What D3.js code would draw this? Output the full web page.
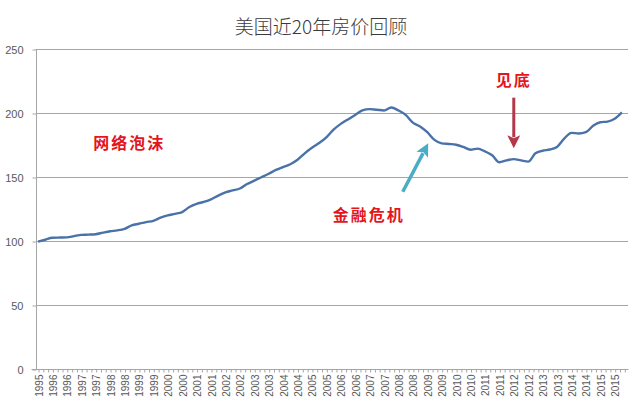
<!DOCTYPE html>
<html>
<head>
<meta charset="utf-8">
<script src="https://cdn.jsdelivr.net/npm/d3@7"></script>
<style>
  body { margin: 0; background: #fff; }
  svg { display: block; }
</style>
</head>
<body>
<div id="chart"></div>
<script>
// quarterly index values, first point = 100
const values = [
  99.5, 101, 102.5, 102.7, 102.8, 103.8, 104.8, 105, 105.3, 106.5,
  107.6, 108.3, 109.5, 112.2, 113.5, 114.8, 115.8, 118.2, 120, 121.2,
  122.6, 126.5, 129, 130.5, 132.5, 135.5, 138, 139.5, 141, 144.5,
  147.2, 149.8, 152.5, 155.5, 157.8, 160, 163.5, 168.5, 172.8, 176.5,
  181, 187, 191.5, 195, 198.5, 202, 203, 202.5, 202, 204.3,
  202, 198.5, 192.5, 189.5, 185, 179, 176.3, 175.8, 175.2, 173.5,
  171.3, 172.2, 170, 167, 161.5, 163, 164, 163, 162, 168.5,
  170.5, 171.5, 173.5, 180, 184.5, 184, 185, 190, 192.8, 193.3,
  195.5, 200.5
];
// one label every six months along the time axis
const tickLabels = [
  '1995', '1996', '1996', '1997', '1997', '1998', '1998', '1999', '1999', '2000',
  '2000', '2001', '2001', '2002', '2002', '2003', '2003', '2004', '2004', '2005',
  '2005', '2006', '2006', '2007', '2007', '2008', '2008', '2009', '2009', '2010',
  '2010', '2011', '2011', '2012', '2012', '2013', '2013', '2014', '2014', '2015',
  '2015'
];
const yTicks = [0, 50, 100, 150, 200, 250];
const title = '美国近20年房价回顾';
const notes = [
  { text: '网络泡沫', month: 38, value: 176 },
  { text: '金融危机', month: 137.7, value: 120 },
  { text: '见底', month: 198, value: 225.5 }
];
const arrows = [
  { from: [198, 212], to: [198, 172.5], color: '#b5374a', w: 3 },
  { from: [151.8, 138.5], to: [162.4, 176.3], color: '#4bacc6', w: 3.5 }
];

const width = 640;
const height = 407;
const plot = { left: 36, right: 628, top: 49, bottom: 369 };

const svg = d3.select('#chart').append('svg')
    .attr('width', width)
    .attr('height', height);

// months since the first point
const x = d3.scaleLinear()
    .domain([0, 240])
    .range([38, 614.7]);

const y = d3.scaleLinear()
    .domain([0, 250])
    .range([plot.bottom, plot.top]);

// title
svg.append('text')
    .attr('x', 321)
    .attr('y', 34)
    .attr('text-anchor', 'middle')
    .style('font-family', '"Noto Sans CJK SC", sans-serif')
    .style('font-weight', 300)
    .style('font-size', '19px')
    .style('fill', '#3a3a3a')
    .text(title);

// gridlines
svg.append('g')
  .selectAll('line')
    .data(yTicks.filter((d) => d > 0))
  .enter()
    .append('line')
    .attr('x1', plot.left)
    .attr('x2', plot.right)
    .attr('y1', (d) => Math.round(y(d)) + 0.5)
    .attr('y2', (d) => Math.round(y(d)) + 0.5)
    .style('stroke', '#a6a6a6')
    .style('stroke-width', 1);

// y axis
const yAxis = d3.axisLeft(y)
    .tickValues(yTicks)
    .tickSize(4)
    .tickPadding(9);

svg.append('g')
    .attr('class', 'y axis')
    .attr('transform', `translate(${plot.left + 0.5},0.5)`)
    .call(yAxis)
    .call((g) => g.select('.domain').style('stroke', '#a6a6a6').attr('d', `M0,${plot.top}V${plot.bottom}`))
    .call((g) => g.selectAll('.tick line').style('stroke', '#a6a6a6'))
    .call((g) => g.selectAll('.tick text')
      .style('font-family', '"Liberation Sans", Arial, sans-serif')
      .style('font-size', '11px')
      .style('fill', '#595959'));

// x axis: a tick every two months, a label every six
const tickMonths = d3.range(0, 246, 2);
const xAxis = d3.axisBottom(x)
    .tickValues(tickMonths)
    .tickSize(3)
    .tickFormat((m) => (m % 6 === 0 ? tickLabels[m / 6] || '' : ''));

const gx = svg.append('g')
    .attr('class', 'x axis')
    .attr('transform', `translate(0.5,${plot.bottom + 0.5})`)
    .call(xAxis);

gx.select('.domain')
    .attr('d', `M${plot.left - 5},0H${plot.right}`)
    .style('stroke', '#a6a6a6');
gx.selectAll('.tick line').style('stroke', '#a6a6a6');
gx.selectAll('.tick text')
    .attr('transform', 'rotate(-90)')
    .attr('text-anchor', 'end')
    .attr('x', -5)
    .attr('y', 0)
    .attr('dy', '0.35em')
    .style('font-family', '"Liberation Sans", Arial, sans-serif')
    .style('font-size', '10px')
    .style('fill', '#595959');

// the index line
const line = d3.line()
    .x((d, i) => x(i * 3))
    .y((d) => y(d))
    .curve(d3.curveMonotoneX);

svg.append('path')
    .datum(values)
    .attr('d', line)
    .style('fill', 'none')
    .style('stroke', '#4a72a8')
    .style('stroke-width', 2.4)
    .style('stroke-linejoin', 'round');

// annotations
svg.append('g')
  .selectAll('text')
    .data(notes)
  .enter()
    .append('text')
    .attr('x', (d) => x(d.month))
    .attr('y', (d) => y(d.value))
    .attr('dy', '0.36em')
    .attr('text-anchor', 'middle')
    .style('font-family', '"Noto Sans CJK SC", sans-serif')
    .style('font-weight', 700)
    .style('font-size', '16px')
    .style('letter-spacing', '2px')
    .style('fill', '#e3151d')
    .text((d) => d.text);

arrows.forEach((a) => {
  const x1 = x(a.from[0]);
  const y1 = y(a.from[1]);
  const x2 = x(a.to[0]);
  const y2 = y(a.to[1]);
  const ang = Math.atan2(y2 - y1, x2 - x1);
  const headLen = 13;
  const headW = 6.5;
  const bx = x2 - headLen * Math.cos(ang);
  const by = y2 - headLen * Math.sin(ang);
  svg.append('line')
      .attr('x1', x1)
      .attr('y1', y1)
      .attr('x2', bx + 2 * Math.cos(ang))
      .attr('y2', by + 2 * Math.sin(ang))
      .style('stroke', a.color)
      .style('stroke-width', a.w);
  const px = -Math.sin(ang);
  const py = Math.cos(ang);
  svg.append('path')
      .attr('d', `M${x2},${y2}L${bx + px * headW},${by + py * headW}`
        + `L${bx + 3 * Math.cos(ang)},${by + 3 * Math.sin(ang)}`
        + `L${bx - px * headW},${by - py * headW}Z`)
      .style('fill', a.color);
});
</script>
</body>
</html>
